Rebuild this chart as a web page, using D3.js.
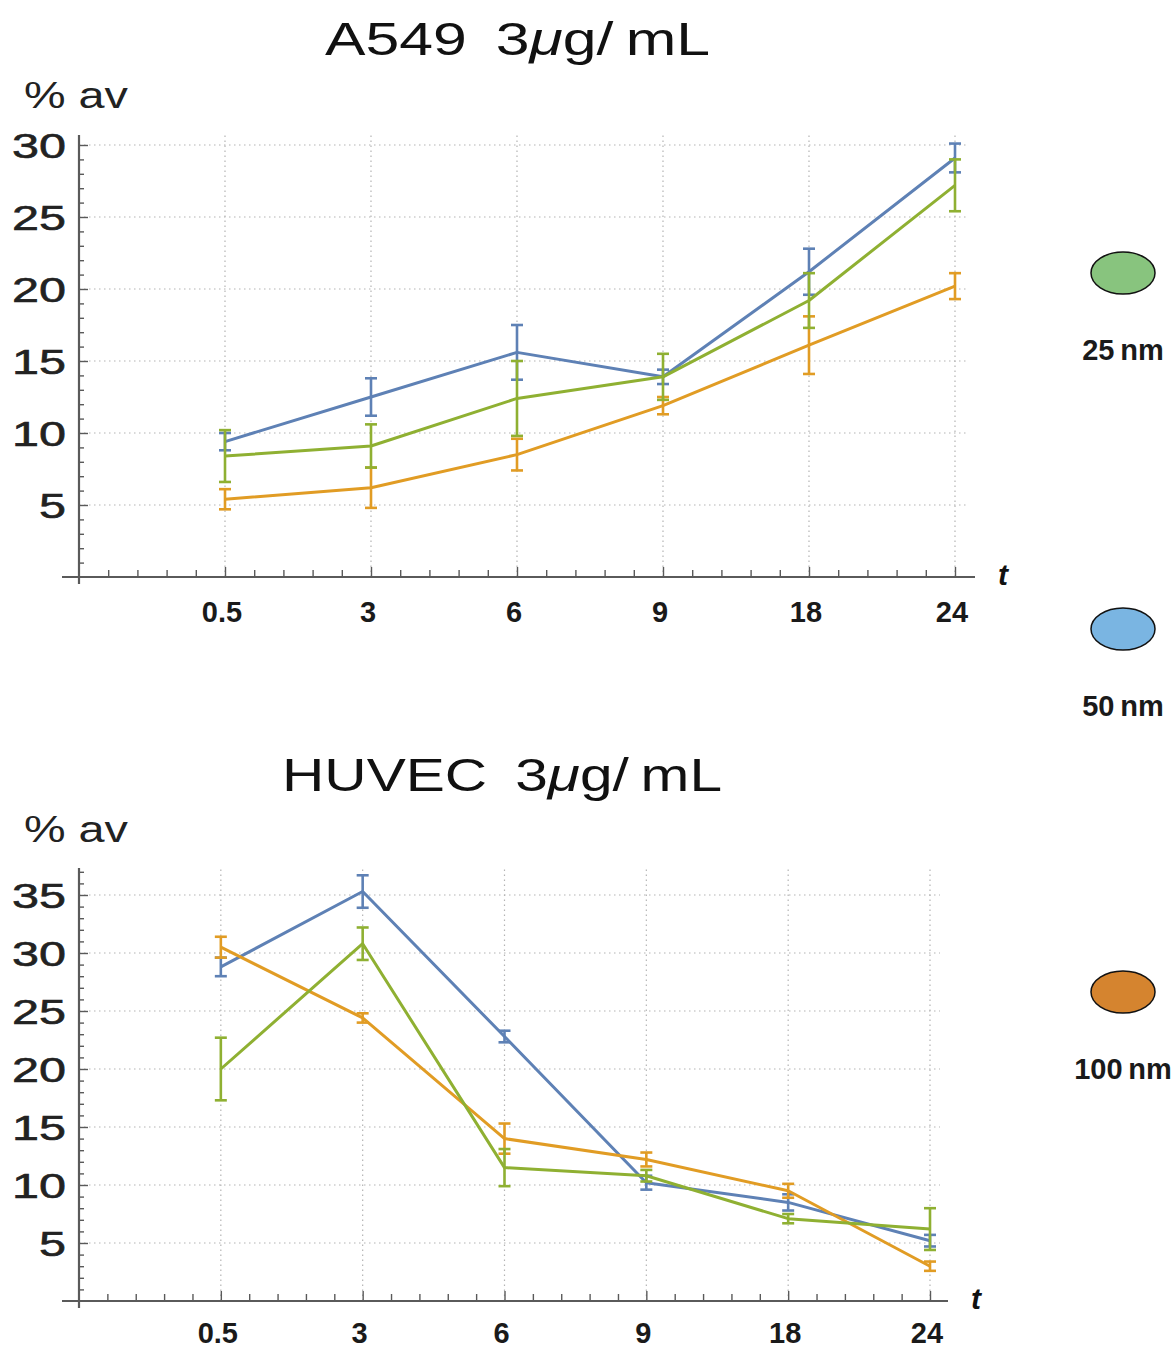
<!DOCTYPE html>
<html>
<head>
<meta charset="utf-8">
<script src="https://cdn.jsdelivr.net/npm/d3@7"></script>
<style>
  html, body { margin: 0; padding: 0; background: #fff; }
  svg { display: block; }
</style>
</head>
<body>
<svg id="chart" width="1175" height="1349"></svg>
<script>
// Sampling times (h)
const times = ["0.5", "3", "6", "9", "18", "24"];

// A549, 3 µg/mL — % av per particle size, with error half-widths
const a549_25nm      = [8.4, 9.1, 12.4, 13.9, 19.2, 27.2];
const a549_25nm_err  = [1.8, 1.5, 2.6, 1.6, 1.9, 1.8];
const a549_50nm      = [9.4, 12.5, 15.6, 13.9, 21.2, 29.1];
const a549_50nm_err  = [0.6, 1.3, 1.9, 0.5, 1.6, 1.0];
const a549_100nm     = [5.4, 6.2, 8.5, 11.9, 16.1, 20.2];
const a549_100nm_err = [0.7, 1.4, 1.1, 0.6, 2.0, 0.9];

// HUVEC, 3 µg/mL
const huvec_25nm      = [20.0, 30.8, 11.5, 10.8, 7.1, 6.2];
const huvec_25nm_err  = [2.7, 1.4, 1.6, 0.5, 0.4, 1.8];
const huvec_50nm      = [28.8, 35.3, 22.8, 10.2, 8.5, 5.2];
const huvec_50nm_err  = [0.8, 1.4, 0.5, 0.6, 0.7, 0.5];
const huvec_100nm     = [30.5, 24.4, 14.0, 12.2, 9.5, 3.0];
const huvec_100nm_err = [0.9, 0.4, 1.3, 0.6, 0.6, 0.4];

// y tick labels
const a549Ticks  = [5, 10, 15, 20, 25, 30];
const huvecTicks = [5, 10, 15, 20, 25, 30, 35];

// Legend
const sizeLabels = ["25\u2009nm", "50\u2009nm", "100\u2009nm"];

const lineColors = { s25: "#8FB032", s50: "#5E81B5", s100: "#E19C24" };
const swatchColors = ["#88C47E", "#7AB5E2", "#D5842F"];

const svg = d3.select("#chart");
const gridColor = "#b4b4b4";
const axisColor = "#5a5a5a";

function drawPanel(p) {
  const g = svg.append("g");
  const x = d3.scaleLinear().domain([0, times.length]).range([p.x0, p.x6]);
  const y = d3.scaleLinear().domain([0, 1]).range([p.y0, p.y0 - p.pxPerUnit]);
  const yMax = y.invert(p.axisTop);
  const xMax = x.invert(p.axisRight);

  // title
  const title = g.append("text")
    .attr("x", p.titleX).attr("y", p.titleY)
    .attr("font-family", "Liberation Sans, Arial, sans-serif")
    .attr("font-size", 47).attr("fill", "#111")
    .attr("textLength", p.titleW).attr("lengthAdjust", "spacingAndGlyphs");
  title.append("tspan").text(p.title + "\u00a0\u2009" + "3");
  title.append("tspan").attr("font-style", "italic").text("\u03bc");
  title.append("tspan").text("g/\u2009mL");

  // y axis caption
  g.append("text")
    .attr("x", 24).attr("y", p.captionY)
    .attr("font-family", "Liberation Sans, Arial, sans-serif")
    .attr("font-size", 36).attr("fill", "#222")
    .attr("textLength", 104).attr("lengthAdjust", "spacingAndGlyphs")
    .text("% av");

  // grid lines
  const grid = g.append("g")
    .attr("stroke", gridColor).attr("stroke-width", 1.2)
    .attr("stroke-dasharray", "1.5,3.5");
  grid.selectAll(".hg").data(p.ticks).join("line")
    .attr("x1", x(0)).attr("x2", p.gridRight)
    .attr("y1", d => y(d)).attr("y2", d => y(d));
  grid.selectAll(".vg").data(d3.range(1, times.length + 1)).join("line")
    .attr("x1", d => x(d)).attr("x2", d => x(d))
    .attr("y1", y(0)).attr("y2", p.axisTop);

  // y axis
  const yAxis = d3.axisRight(y)
    .tickValues(d3.range(1, Math.floor(yMax) + 1))
    .tickSize(5).tickFormat("");
  const ya = g.append("g").attr("transform", `translate(${x(0)},0)`).call(yAxis);
  ya.select(".domain").remove();
  ya.selectAll(".tick line").attr("stroke", axisColor).attr("stroke-width", 1.4)
    .attr("x2", d => (d % 5 === 0 ? 9 : 5));
  g.append("line")
    .attr("x1", x(0)).attr("x2", x(0))
    .attr("y1", p.axisTop).attr("y2", y(0) + 7)
    .attr("stroke", axisColor).attr("stroke-width", 2.2);

  g.selectAll(".ylab").data(p.ticks).join("text")
    .attr("x", 66).attr("y", d => y(d) + 12.5)
    .attr("text-anchor", "end")
    .attr("font-family", "Liberation Sans, Arial, sans-serif")
    .attr("font-size", 35).attr("fill", "#222")
    .attr("stroke", "#222").attr("stroke-width", 0.6)
    .attr("textLength", d => (d >= 10 ? 54 : 27))
    .attr("lengthAdjust", "spacingAndGlyphs")
    .text(d => d);

  // x axis
  const minor = d3.range(1, Math.floor(xMax * 5) + 1).map(i => i / 5);
  const xAxis = d3.axisTop(x).tickValues(minor).tickSize(6).tickFormat("");
  const xa = g.append("g").attr("transform", `translate(0,${y(0)})`).call(xAxis);
  xa.select(".domain").remove();
  xa.selectAll(".tick line").attr("stroke", axisColor).attr("stroke-width", 1.4)
    .attr("y2", d => (Math.abs(d - Math.round(d)) < 1e-6 ? -10 : -7));
  g.append("line")
    .attr("x1", p.axisLeft).attr("x2", p.axisRight)
    .attr("y1", y(0)).attr("y2", y(0))
    .attr("stroke", axisColor).attr("stroke-width", 2.2);

  g.selectAll(".xlab").data(times).join("text")
    .attr("x", (d, i) => x(i + 1) - 3).attr("y", p.xLabelY)
    .attr("text-anchor", "middle")
    .attr("font-family", "Liberation Sans, Arial, sans-serif")
    .attr("font-weight", "bold").attr("font-size", 29).attr("fill", "#1a1a1a")
    .text(d => d);

  g.append("text")
    .attr("x", p.tX).attr("y", y(0) + 8)
    .attr("font-family", "Liberation Sans, Arial, sans-serif")
    .attr("font-weight", "bold").attr("font-style", "italic")
    .attr("font-size", 30).attr("fill", "#111")
    .text("t");

  // series: lines, then error bars
  const line = d3.line().x((d, i) => x(i + 1)).y(d => y(d));
  p.series.forEach(s => {
    const sg = g.append("g");
    sg.append("path").datum(s.values)
      .attr("d", line).attr("fill", "none")
      .attr("stroke", s.color).attr("stroke-width", 3)
      .attr("stroke-linejoin", "round");
    const bars = sg.selectAll(".eb").data(s.values.map((v, i) => ({ v, e: s.err[i], i })))
      .join("g").attr("stroke", s.color).attr("stroke-width", 2.6);
    bars.append("line")
      .attr("x1", d => x(d.i + 1)).attr("x2", d => x(d.i + 1))
      .attr("y1", d => y(d.v - d.e)).attr("y2", d => y(d.v + d.e));
    bars.append("line")
      .attr("x1", d => x(d.i + 1) - 6).attr("x2", d => x(d.i + 1) + 6)
      .attr("y1", d => y(d.v + d.e)).attr("y2", d => y(d.v + d.e));
    bars.append("line")
      .attr("x1", d => x(d.i + 1) - 6).attr("x2", d => x(d.i + 1) + 6)
      .attr("y1", d => y(d.v - d.e)).attr("y2", d => y(d.v - d.e));
  });
}

drawPanel({
  title: "A549", titleX: 325, titleY: 55, titleW: 385, captionY: 108,
  x0: 79, x6: 955, y0: 577, pxPerUnit: 14.4,
  axisTop: 135, axisLeft: 62, axisRight: 975, gridRight: 966,
  ticks: a549Ticks, xLabelY: 622, tX: 998,
  series: [
    { values: a549_50nm,  err: a549_50nm_err,  color: lineColors.s50 },
    { values: a549_100nm, err: a549_100nm_err, color: lineColors.s100 },
    { values: a549_25nm,  err: a549_25nm_err,  color: lineColors.s25 }
  ]
});

drawPanel({
  title: "HUVEC", titleX: 282, titleY: 791, titleW: 440, captionY: 842,
  x0: 79, x6: 930, y0: 1301, pxPerUnit: 11.6,
  axisTop: 868, axisLeft: 62, axisRight: 948, gridRight: 940,
  ticks: huvecTicks, xLabelY: 1343, tX: 971,
  series: [
    { values: huvec_50nm,  err: huvec_50nm_err,  color: lineColors.s50 },
    { values: huvec_100nm, err: huvec_100nm_err, color: lineColors.s100 },
    { values: huvec_25nm,  err: huvec_25nm_err,  color: lineColors.s25 }
  ]
});

// legend
const legendY = [273, 629, 992];
const legendTextY = [360, 716, 1079];
const lg = svg.append("g");
sizeLabels.forEach((lab, i) => {
  lg.append("ellipse")
    .attr("cx", 1123).attr("cy", legendY[i]).attr("rx", 32).attr("ry", 21)
    .attr("fill", swatchColors[i]).attr("stroke", "#111").attr("stroke-width", 1.5);
  lg.append("text")
    .attr("x", 1123).attr("y", legendTextY[i])
    .attr("text-anchor", "middle")
    .attr("font-family", "Liberation Sans, Arial, sans-serif")
    .attr("font-weight", "bold").attr("font-size", 29).attr("fill", "#1a1a1a")
    .text(lab);
});
</script>
</body>
</html>
